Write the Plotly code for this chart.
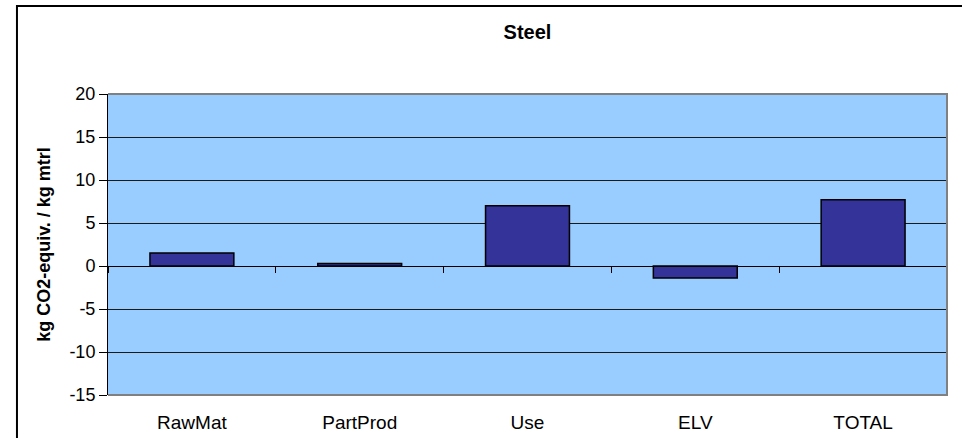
import plotly.graph_objects as go

# Life-cycle stages and CO2-equivalent emissions per kg of steel
stages = ["RawMat", "PartProd", "Use", "ELV", "TOTAL"]
co2_equiv = [1.5, 0.3, 7.0, -1.4, 7.7]

y_ticks = [-15, -10, -5, 0, 5, 10, 15, 20]

FONT = "Liberation Sans, Arial, sans-serif"
Y_MIN, Y_MAX = -15, 20

fig = go.Figure()

fig.add_trace(go.Bar(
    x=stages,
    y=co2_equiv,
    width=0.5,
    marker=dict(color="#333399", line=dict(color="#000000", width=1.5)),
    hoverinfo="x+y",
    showlegend=False,
))

# Invisible companion trace so the zero-line axis carries the same categories
fig.add_trace(go.Scatter(
    x=stages,
    y=co2_equiv,
    xaxis="x2",
    mode="markers",
    marker=dict(opacity=0),
    hoverinfo="skip",
    showlegend=False,
))

zero_pos = (0 - Y_MIN) / (Y_MAX - Y_MIN)

fig.update_layout(
    width=962,
    height=438,
    margin=dict(l=108, r=15, t=94, b=43),
    paper_bgcolor="#FFFFFF",
    plot_bgcolor="#99CCFF",
    font=dict(family=FONT, color="#000000"),
    title=dict(
        text="<b>Steel</b>",
        font=dict(family=FONT, size=20, color="#000000"),
        x=0.5, xref="paper", xanchor="center",
        y=1 - 32 / 438, yref="container", yanchor="middle",
    ),
    xaxis=dict(
        type="category",
        categoryorder="array",
        categoryarray=stages,
        showline=False,
        ticks="",
        showgrid=False,
        zeroline=False,
        automargin=False,
        tickfont=dict(family=FONT, size=19, color="#000000"),
        ticklabelstandoff=14,
    ),
    xaxis2=dict(
        type="category",
        categoryorder="array",
        categoryarray=stages,
        overlaying="x",
        matches="x",
        anchor="free",
        position=zero_pos,
        side="bottom",
        showline=True,
        linecolor="#000000",
        linewidth=1,
        ticks="outside",
        ticklen=6,
        tickcolor="#000000",
        tickson="boundaries",
        showticklabels=False,
        showgrid=False,
        zeroline=False,
        automargin=False,
    ),
    yaxis=dict(
        range=[Y_MIN, Y_MAX],
        tickvals=y_ticks,
        ticktext=[str(v) for v in y_ticks],
        ticks="outside",
        ticklen=8,
        tickcolor="#000000",
        showline=True,
        linecolor="#000000",
        linewidth=1,
        showgrid=True,
        gridcolor="#1a1a1a",
        gridwidth=1,
        zeroline=True,
        zerolinecolor="#000000",
        zerolinewidth=1,
        automargin=False,
        tickfont=dict(family=FONT, size=18, color="#000000"),
        title=dict(
            text="<b>kg CO2-equiv. / kg mtrl</b>",
            font=dict(family=FONT, size=18, color="#000000"),
            standoff=14,
        ),
    ),
    shapes=[
        # gray frame on top, right and bottom of the plotting area
        dict(
            type="path", xref="paper", yref="paper",
            path="M 0,1 L 1,1 L 1,0 L 0,0",
            line=dict(color="#808080", width=2),
            layer="above",
        ),
        # outer chart frame
        dict(
            type="rect", xref="paper", yref="paper",
            x0=-0.1085, y0=-0.4, x1=1.3, y1=1.2924,
            line=dict(color="#000000", width=2),
            fillcolor="rgba(0,0,0,0)",
            layer="above",
        ),
    ],
)

fig.write_html("out.html")
